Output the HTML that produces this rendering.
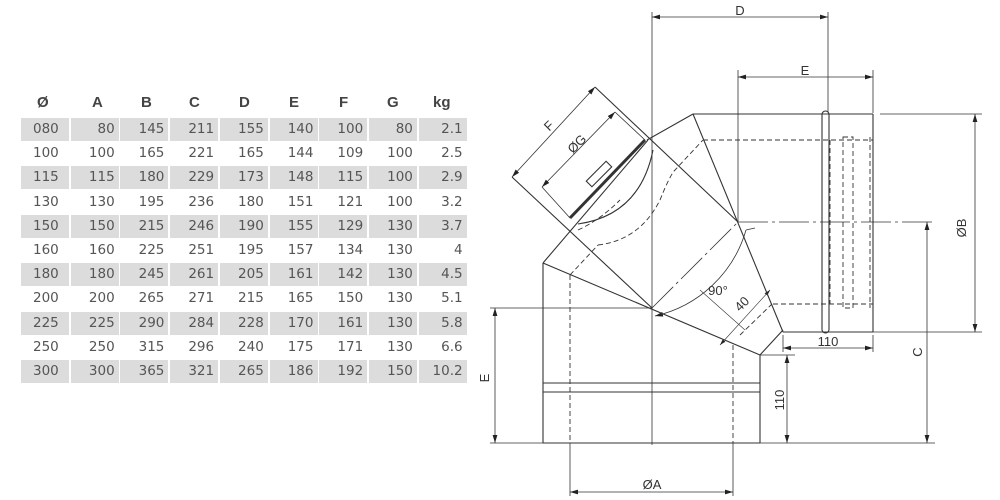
<!DOCTYPE html>
<html><head><meta charset="utf-8"><style>
body{margin:0;width:1000px;height:500px;background:#fff;overflow:hidden;position:relative;font-family:"Liberation Sans","DejaVu Sans",sans-serif}
.c{position:absolute;height:23px;width:48px;font-size:13.5px;color:#555;line-height:23px;text-align:right;box-sizing:border-box;padding-right:4px;font-family:"DejaVu Sans","Liberation Sans",sans-serif}
.s{background:#dcdcdc}
.h{position:absolute;top:94px;font-weight:bold;font-size:15px;color:#444}
svg{position:absolute;left:0;top:0}
</style></head><body>
<div class="h" style="left:37px">Ø</div><div class="h" style="left:92px">A</div><div class="h" style="left:141px">B</div><div class="h" style="left:189px">C</div><div class="h" style="left:239px">D</div><div class="h" style="left:289px">E</div><div class="h" style="left:339px">F</div><div class="h" style="left:387px">G</div><div class="h" style="left:433px">kg</div>
<div id="t"></div>
<script>
var d=[["080",80,145,211,155,140,100,80,"2.1"],["100",100,165,221,165,144,109,100,"2.5"],["115",115,180,229,173,148,115,100,"2.9"],["130",130,195,236,180,151,121,100,"3.2"],["150",150,215,246,190,155,129,130,"3.7"],["160",160,225,251,195,157,134,130,"4"],["180",180,245,261,205,161,142,130,"4.5"],["200",200,265,271,215,165,150,130,"5.1"],["225",225,290,284,228,170,161,130,"5.8"],["250",250,315,296,240,175,171,130,"6.6"],["300",300,365,321,265,186,192,150,"10.2"]];
var h="";d.forEach(function(r,i){r.forEach(function(v,j){var st="left:"+(21+j*49.7).toFixed(1)+"px;top:"+(118+i*24.2).toFixed(1)+"px;"+(j==0?"text-align:left;padding-left:12px;":"");h+='<div class="c'+(i%2==0?' s':'')+'" style="'+st+'">'+v+'</div>';});});document.getElementById("t").innerHTML=h;
</script>
<svg width="1000" height="500" viewBox="0 0 1000 500" fill="none" stroke="#333" stroke-width="1">
<defs><marker id="a" viewBox="0 0 10 6" refX="10" refY="3" markerWidth="10" markerHeight="6" orient="auto-start-reverse"><path d="M0,0L10,3L0,6z" fill="#222" stroke="none"/></marker></defs>
<g stroke-width="0.8">
<!-- extension lines -->
<line x1="652" y1="12" x2="652" y2="445"/>
<line x1="828" y1="12" x2="828" y2="112"/>
<line x1="738" y1="70" x2="738" y2="222"/>
<line x1="873" y1="70" x2="873" y2="113"/>
<line x1="880" y1="114" x2="982" y2="114"/>
<line x1="873" y1="332" x2="982" y2="332"/>
<line x1="490" y1="308" x2="652" y2="308"/>
<line x1="490" y1="443" x2="935" y2="443"/>
<line x1="783" y1="335" x2="783" y2="352"/>
<line x1="873" y1="335" x2="873" y2="352"/>
<line x1="760" y1="355" x2="795" y2="355"/>
<line x1="570" y1="443" x2="570" y2="496"/>
<line x1="733" y1="443" x2="733" y2="496"/>
<line x1="738" y1="222" x2="932" y2="222" stroke-dasharray="30,4,3,4"/>
<!-- dimension lines -->
<line x1="652" y1="17" x2="828" y2="17" marker-start="url(#a)" marker-end="url(#a)"/>
<line x1="738" y1="77" x2="873" y2="77" marker-start="url(#a)" marker-end="url(#a)"/>
<line x1="975" y1="114" x2="975" y2="332" marker-start="url(#a)" marker-end="url(#a)"/>
<line x1="927" y1="222" x2="927" y2="443" marker-start="url(#a)" marker-end="url(#a)"/>
<line x1="495" y1="308" x2="495" y2="443" marker-start="url(#a)" marker-end="url(#a)"/>
<line x1="787" y1="355" x2="787" y2="443" marker-start="url(#a)" marker-end="url(#a)"/>
<line x1="783" y1="348" x2="873" y2="348" marker-start="url(#a)" marker-end="url(#a)"/>
<line x1="570" y1="492" x2="733" y2="492" marker-start="url(#a)" marker-end="url(#a)"/>
<line x1="512" y1="177" x2="595" y2="87" marker-start="url(#a)" marker-end="url(#a)"/>
<line x1="542" y1="187" x2="615" y2="112" marker-start="url(#a)" marker-end="url(#a)"/>
<line x1="542" y1="187" x2="570" y2="218"/>
<line x1="615" y1="112" x2="645" y2="140"/>
<line x1="720" y1="345" x2="770" y2="290" marker-start="url(#a)" marker-end="url(#a)" stroke-width="0.6"/>
<!-- 90 arc -->
<path d="M746,230 A123,123 0 0 1 655,316" marker-end="url(#a)"/>
<path d="M755,228 L746,230"/>
<line x1="652" y1="308" x2="738" y2="222" stroke-dasharray="30,4,3,4"/>
</g>
<g stroke-width="1.1">
<!-- top pipe -->
<line x1="693" y1="114" x2="873" y2="114"/>
<line x1="873" y1="114" x2="873" y2="332"/>
<line x1="783" y1="332" x2="873" y2="332"/>
<rect x="822" y="111" width="7" height="222" rx="3.5"/>
<line x1="693" y1="114" x2="783" y2="332"/>
<line x1="693" y1="114" x2="647" y2="140"/>
<line x1="648" y1="140" x2="543" y2="263"/>
<!-- lower pipe -->
<line x1="543" y1="263" x2="543" y2="443"/>
<line x1="760" y1="355" x2="760" y2="443"/>
<line x1="543" y1="443" x2="760" y2="443"/>
<line x1="543" y1="383" x2="760" y2="383"/>
<line x1="543" y1="392" x2="760" y2="392"/>
<line x1="543" y1="263" x2="760" y2="355"/>
<line x1="760" y1="355" x2="783" y2="330"/>
<line x1="512" y1="177" x2="652" y2="308"/>
<line x1="595" y1="87" x2="738" y2="222"/>
<line x1="570" y1="218" x2="645" y2="140" stroke-width="3"/>
<rect x="585" y="170" width="28" height="8" transform="rotate(-45 599 174)" fill="#fff"/>
<path d="M578,224 Q640,215 653,150"/>
</g>
<g stroke-width="0.9" stroke-dasharray="5,3">
<line x1="703" y1="140" x2="873" y2="140"/>
<line x1="773" y1="304" x2="873" y2="304"/>
<rect x="843" y="137" width="10" height="171"/>
<line x1="870" y1="137" x2="870" y2="308"/>
<line x1="830" y1="140" x2="830" y2="304"/>
<line x1="570" y1="275" x2="570" y2="443"/>
<line x1="733" y1="345" x2="733" y2="443"/>
<line x1="570" y1="392" x2="733" y2="392"/>
<line x1="570" y1="275" x2="598" y2="245"/>
<path d="M598,245 Q640,240 660,200 Q670,175 675,170 L703,140"/>
<path d="M578,230 Q600,220 620,200"/>
<line x1="740" y1="335" x2="772" y2="304"/>
<line x1="745" y1="330" x2="700" y2="290" stroke-dasharray="none" stroke-width="0.6"/>
</g>
<g fill="#333" stroke="none" font-size="13" font-family="Liberation Sans,sans-serif" text-anchor="middle">
<text x="740" y="15">D</text>
<text x="805" y="75">E</text>
<text x="828" y="346">110</text>
<text x="652" y="489">ØA</text>
<text x="718" y="295">90°</text>
<text transform="translate(966 228) rotate(-90)">ØB</text>
<text transform="translate(922 352) rotate(-90)">C</text>
<text transform="translate(489 378) rotate(-90)">E</text>
<text transform="translate(784 400) rotate(-90)">110</text>
<text transform="translate(745 307) rotate(-45)">40</text>
<text transform="translate(552 129) rotate(-45)">F</text>
<text transform="translate(580 147) rotate(-45)">ØG</text>
</g>
</svg>
</body></html>
